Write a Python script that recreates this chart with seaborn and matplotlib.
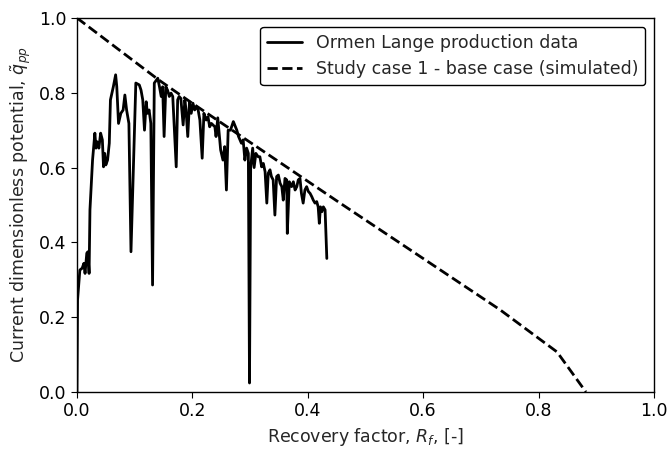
import matplotlib
matplotlib.use("Agg")
import matplotlib.pyplot as plt
import seaborn as sns
import pandas as pd

# Ormen Lange production data (recovery factor, dimensionless potential)
prod_rf = [0.000, 0.001, 0.005, 0.009, 0.012, 0.014, 0.017, 0.019, 0.021, 0.0225,
           0.027, 0.031, 0.033, 0.035, 0.038, 0.041, 0.044, 0.046, 0.048, 0.050,
           0.053, 0.056, 0.058, 0.063, 0.067, 0.069, 0.072, 0.076, 0.080, 0.083,
           0.086, 0.090, 0.0936, 0.102, 0.108, 0.111, 0.114, 0.117, 0.120, 0.122,
           0.125, 0.128, 0.131, 0.134, 0.140, 0.143, 0.146, 0.1485, 0.151, 0.154,
           0.157, 0.160, 0.163, 0.166, 0.172, 0.1745, 0.177, 0.180, 0.184, 0.187,
           0.189, 0.192, 0.195, 0.198, 0.201, 0.204, 0.207, 0.210, 0.213, 0.217,
           0.220, 0.224, 0.227, 0.230, 0.233, 0.239, 0.241, 0.244, 0.249, 0.253,
           0.256, 0.259, 0.262, 0.266, 0.271, 0.277, 0.280, 0.2825, 0.285, 0.288,
           0.291, 0.294, 0.297, 0.299, 0.301, 0.3045, 0.307, 0.310, 0.314, 0.317,
           0.320, 0.323, 0.326, 0.329, 0.3315, 0.3345, 0.337, 0.340, 0.343, 0.346,
           0.349, 0.352, 0.355, 0.3575, 0.3605, 0.3635, 0.3645, 0.368, 0.372, 0.375,
           0.378, 0.381, 0.3835, 0.3865, 0.389, 0.392, 0.395, 0.398, 0.401, 0.404,
           0.407, 0.4095, 0.4125, 0.4155, 0.418, 0.420, 0.422, 0.4245, 0.427, 0.430,
           0.433]
prod_q = [0.00, 0.246, 0.326, 0.331, 0.344, 0.317, 0.371, 0.375, 0.317, 0.487,
          0.620, 0.692, 0.652, 0.669, 0.652, 0.692, 0.674, 0.602, 0.638, 0.607,
          0.620, 0.665, 0.781, 0.816, 0.848, 0.816, 0.718, 0.745, 0.754, 0.794,
          0.754, 0.718, 0.375, 0.826, 0.821, 0.807, 0.781, 0.700, 0.776, 0.745,
          0.754, 0.718, 0.286, 0.826, 0.839, 0.816, 0.790, 0.816, 0.683, 0.816,
          0.807, 0.790, 0.799, 0.790, 0.602, 0.781, 0.790, 0.785, 0.714, 0.781,
          0.754, 0.683, 0.776, 0.745, 0.772, 0.754, 0.763, 0.754, 0.727, 0.625,
          0.745, 0.727, 0.736, 0.709, 0.718, 0.709, 0.683, 0.733, 0.647, 0.620,
          0.656, 0.540, 0.700, 0.700, 0.723, 0.700, 0.683, 0.674, 0.665, 0.674,
          0.620, 0.652, 0.638, 0.024, 0.600, 0.652, 0.600, 0.638, 0.629, 0.629,
          0.602, 0.611, 0.589, 0.505, 0.585, 0.594, 0.576, 0.567, 0.473, 0.576,
          0.580, 0.558, 0.549, 0.513, 0.571, 0.567, 0.424, 0.562, 0.549, 0.562,
          0.540, 0.549, 0.567, 0.571, 0.531, 0.505, 0.540, 0.549, 0.536, 0.531,
          0.522, 0.513, 0.505, 0.509, 0.495, 0.451, 0.495, 0.482, 0.495, 0.487,
          0.357]

# Study case 1 - base case (simulated)
sim_rf = [0.000, 0.142, 0.196, 0.456, 0.733, 0.832, 0.882]
sim_q = [1.000, 0.834, 0.776, 0.505, 0.220, 0.107, 0.000]

label_prod = "Ormen Lange production data"
label_sim = "Study case 1 - base case (simulated)"

sns.set_style("ticks")
plt.rcParams['font.family'] = ['DejaVu Sans']
plt.rcParams['mathtext.fontset'] = 'dejavusans'

FS = 12.5
fig = plt.figure(figsize=(6.67, 4.49), dpi=100)
ax = fig.add_axes([0.1154, 0.127, 0.8651, 0.833])

df_prod = pd.DataFrame({"rf": prod_rf, "q": prod_q})
df_sim = pd.DataFrame({"rf": sim_rf, "q": sim_q})

sns.lineplot(data=df_prod, x="rf", y="q", ax=ax, color="black", linewidth=2,
             sort=False, label=label_prod)
sns.lineplot(data=df_sim, x="rf", y="q", ax=ax, color="black", linewidth=2,
             linestyle="--", sort=False, label=label_sim)

ax.set_xlim(0, 1.0)
ax.set_ylim(0, 1.0)
ax.set_xticks([0.0, 0.2, 0.4, 0.6, 0.8, 1.0])
ax.set_yticks([0.0, 0.2, 0.4, 0.6, 0.8, 1.0])
ax.tick_params(labelsize=FS, colors="black", direction="out", length=4)
for s in ax.spines.values():
    s.set_color("black")
    s.set_linewidth(1.0)

ax.set_xlabel("Recovery factor, $R_f$, [-]", fontsize=FS)
ax.set_ylabel("Current dimensionless potential, $\\tilde{q}_{pp}$", fontsize=FS)

leg = ax.legend(loc="upper right", fontsize=FS, frameon=True, fancybox=True)
leg.get_frame().set_edgecolor("black")
leg.get_frame().set_alpha(1.0)

fig.savefig("out.png", dpi=100)
